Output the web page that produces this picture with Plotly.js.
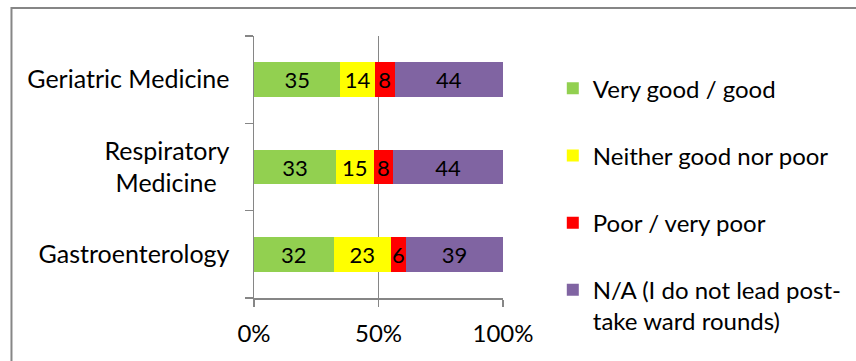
<!DOCTYPE html>
<html>
<head>
<meta charset="utf-8">
<script src="https://cdn.plot.ly/plotly-3.0.1.min.js"></script>
<style>html,body{margin:0;padding:0;background:#fff;}#chart{width:856px;height:361px;}</style>
</head>
<body>
<div id="chart"></div>
<script>
// Data (bottom to top as drawn)
const categories = ['Gastroenterology', 'Respiratory<br>Medicine\u00A0\u00A0', 'Geriatric Medicine'];
const seriesNames = ['Very good / good', 'Neither good nor poor', 'Poor / very poor', 'N/A (I do not lead post-<br>take ward rounds)'];
const veryGood = [32, 33, 35];
const neither = [23, 15, 14];
const poor = [6, 8, 8];
const notApplicable = [39, 44, 44];
const xTickVals = [0, 50, 100];
const xTickText = ['0%', '50%', '100%'];

const colors = ['#92D050', '#FFFF00', '#FF0000', '#8064A2'];
const allValues = [veryGood, neither, poor, notApplicable];
const FONT = 'Lato, "Open Sans", sans-serif';

const traces = allValues.map((vals, i) => ({
  type: 'bar',
  orientation: 'h',
  name: seriesNames[i],
  y: categories,
  x: vals,
  text: vals.map(String),
  textposition: 'inside',
  insidetextanchor: 'middle',
  textangle: 0,
  textfont: {family: FONT, size: 22, color: '#000'},
  marker: {color: colors[i], line: {width: 0}},
  width: 0.4,
  legendgroup: 'g' + i,
  hoverinfo: 'none'
}));

const layout = {
  width: 856, height: 361,
  margin: {l: 254, r: 353, t: 36, b: 63, autoexpand: false},
  paper_bgcolor: '#fff', plot_bgcolor: '#fff',
  barmode: 'stack',
  barnorm: 'percent',
  font: {family: FONT, size: 24, color: '#000'},
  uniformtext: {mode: 'show', minsize: 22},
  showlegend: true,
  legend: {
    x: 1.2, y: 0.885, xanchor: 'left', yanchor: 'top',
    traceorder: 'grouped', tracegroupgap: 33, valign: 'top',
    maxheight: 320,
    font: {family: FONT, size: 24, color: '#000'},
    bgcolor: 'rgba(0,0,0,0)'
  },
  xaxis: {
    range: [0, 100],
    tickvals: xTickVals, ticktext: xTickText,
    ticks: 'outside', ticklen: 7, tickcolor: '#868686', tickwidth: 1.5,
    showgrid: true, gridcolor: '#868686', gridwidth: 1.5,
    showline: true, linecolor: '#868686', linewidth: 1.5,
    zeroline: false, ticklabelstandoff: 7,
    tickfont: {family: FONT, size: 24, color: '#000'},
    fixedrange: true
  },
  yaxis: {
    type: 'category',
    range: [-0.5, 2.5],
    tickson: 'boundaries',
    ticks: 'outside', ticklen: 8, tickcolor: '#868686', tickwidth: 1.5,
    showline: true, linecolor: '#868686', linewidth: 1.5,
    showgrid: false, zeroline: false,
    ticklabelstandoff: 18,
    tickfont: {family: FONT, size: 25, color: '#000'},
    fixedrange: true
  },
  shapes: [{
    type: 'rect', xref: 'paper', yref: 'paper',
    x0: -0.974, x1: 2.5, y0: -0.3, y1: 1.107,
    line: {color: '#868686', width: 2}, fillcolor: 'rgba(0,0,0,0)', layer: 'below'
  }]
};

Plotly.newPlot('chart', traces, layout, {staticPlot: true});
</script>
</body>
</html>
